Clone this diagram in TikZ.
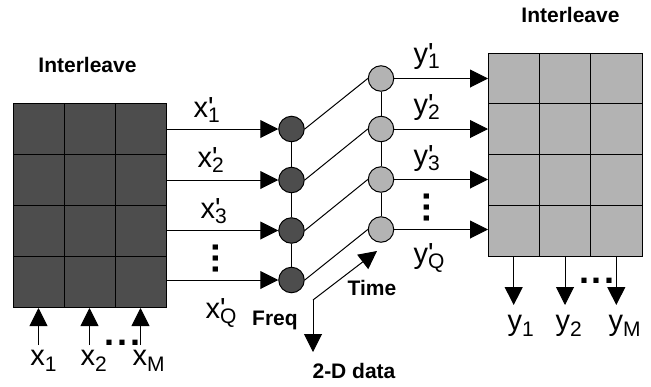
\documentclass[tikz,border=0pt]{standalone}
\usepackage{fontspec}
\setmainfont{Liberation Sans}
\usetikzlibrary{arrows.meta}
\definecolor{darkf}{HTML}{4D4D4D}
\definecolor{lightf}{HTML}{B3B3B3}
\newcommand\subf{\fontsize{21}{21}\selectfont}
\newcommand\prm[2]{#1\rlap{\textquotesingle}\raisebox{-5pt}{\subf #2}}
\newcommand\sbs[2]{#1\raisebox{-6pt}{\subf #2}}
\begin{document}
\begin{tikzpicture}[x=1pt,y=-1pt,line width=1pt,
  arr/.style={-{Triangle[length=18pt,width=18pt]}},
  dnode/.style={circle,draw,fill=darkf,minimum size=25.5pt,inner sep=0pt},
  lnode/.style={circle,draw,fill=lightf,minimum size=25.5pt,inner sep=0pt},
  grid/.style={draw,inner sep=0pt,anchor=north west},
  lab/.style={font=\fontsize{29}{29}\selectfont,inner sep=0pt,anchor=base west},
  blab/.style={font=\fontsize{21}{21}\selectfont\bfseries,inner sep=0pt,anchor=base},
  dots/.style={font=\fontsize{36}{36}\selectfont\bfseries,inner sep=0pt}]
\useasboundingbox (0,0) rectangle (651,386);
% left grid
\node[grid,fill=darkf,minimum width=153pt,minimum height=204pt] (L) at (13,103) {};
\foreach \xx in {64,115} \draw (\xx,103) -- (\xx,307);
\foreach \yy in {154,205,256} \draw (13,\yy) -- (166,\yy);
% right grid
\node[grid,fill=lightf,minimum width=154pt,minimum height=203pt] (R) at (488,53) {};
\foreach \xx in {539.3,590.7} \draw (\xx,53) -- (\xx,256);
\foreach \yy in {103.75,154.5,205.25} \draw (488,\yy) -- (642,\yy);
% circles
\node[dnode] (d1) at (291.5,129) {};
\node[dnode] (d2) at (291.5,180) {};
\node[dnode] (d3) at (291.5,230.5) {};
\node[dnode] (d4) at (291.5,280) {};
\node[lnode] (l1) at (381,78.5) {};
\node[lnode] (l2) at (381,129) {};
\node[lnode] (l3) at (381,179.5) {};
\node[lnode] (l4) at (381,229.5) {};
\draw (d1.south) -- (d2.north) (d2.south) -- (d3.north) (d3.south) -- (d4.north);
\draw (l1.south) -- (l2.north) (l2.south) -- (l3.north) (l3.south) -- (l4.north);
\foreach \i in {1,2,3,4} {
  \draw[arr] (d\i -| L.east) -- (d\i.west);
  \draw (d\i.east) -- (l\i.west);
  \draw[arr] (l\i.east) -- (l\i -| R.west);
}
% time/freq axes
\coordinate (ax) at (313,300);
\coordinate (tt) at (377,251);
\coordinate (ft) at (313,352);
\draw[arr] (ax) -- (tt);
\draw[arr] (ax) -- (ft);
% bottom arrows
\foreach \xx/\n in {38.5/1,89.5/2,140.5/3} {
  \coordinate (xb\n) at (\xx,345);
  \draw[arr] (xb\n) -- (xb\n |- L.south);
}
\foreach \xx/\n in {513.7/1,565/2,616.3/3} {
  \coordinate (yb\n) at (\xx,305);
  \draw[arr] (yb\n |- R.south) -- (yb\n);
}
% labels
\node[lab] (xp1) at (193,117) {\prm{x}{1}};
\node[lab] (xp2) at (197,167) {\prm{x}{2}};
\node[lab] (xp3) at (200,218) {\prm{x}{3}};
\node[dots] (xvd) at (215.5,258.5) {\rotatebox{90}{.\kern1pt.\kern1pt.}};
\node[lab] (xpQ) at (205,318) {\prm{x}{Q}};
\node[lab] (yp1) at (413,63) {\prm{y}{1}};
\node[lab] (yp2) at (413,114) {\prm{y}{2}};
\node[lab] (yp3) at (413,165) {\prm{y}{3}};
\node[dots] (yvd) at (427,207.5) {\rotatebox{90}{.\kern1pt.\kern1pt.}};
\node[lab] (ypQ) at (413,263) {\prm{y}{Q}};
\node[lab] (x1) at (30,365) {\sbs{x}{1}};
\node[lab] (x2) at (80,365) {\sbs{x}{2}};
\node[lab] (xM) at (132,365) {\sbs{x}{M}};
\node[dots] (xhd) at (122.5,342.5) {.\kern3pt.\kern3pt.};
\node[lab] (y1) at (507,330) {\sbs{y}{1}};
\node[lab] (y2) at (555,330) {\sbs{y}{2}};
\node[lab] (yM) at (608,330) {\sbs{y}{M}};
\node[dots] (yhd) at (597,281) {.\kern3pt.\kern3pt.};
\node[blab] (il) at (87.5,72) {Interleave};
\node[blab] (ir) at (570.5,22) {Interleave};
\node[blab] (time) at (372,295) {Time};
\node[blab] (freq) at (275,325) {Freq};
\node[blab] (tdd) at (354,378) {2-D data};
\end{tikzpicture}
\end{document}
